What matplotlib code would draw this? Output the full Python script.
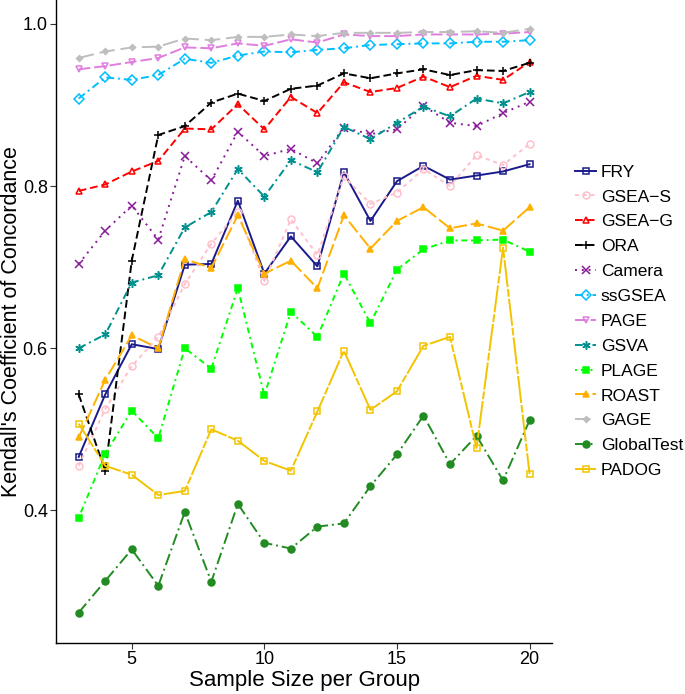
import matplotlib
matplotlib.use('Agg')
from matplotlib import pyplot as plt
import numpy as np

plt.rcParams['font.family'] = ['Liberation Sans', 'DejaVu Sans']

sample_size = list(range(3, 21))

fry = [0.466, 0.543, 0.605, 0.599, 0.703, 0.704, 0.782, 0.692, 0.738, 0.701,
       0.817, 0.757, 0.806, 0.825, 0.808, 0.813, 0.818, 0.827]
gsea_s = [0.455, 0.525, 0.578, 0.614, 0.679, 0.729, 0.768, 0.683, 0.759, 0.715,
          0.812, 0.778, 0.792, 0.821, 0.800, 0.838, 0.826, 0.852]
gsea_g = [0.794, 0.802, 0.818, 0.831, 0.871, 0.870, 0.901, 0.870, 0.910, 0.890,
          0.928, 0.916, 0.921, 0.935, 0.922, 0.936, 0.931, 0.953]
ora = [0.543, 0.449, 0.708, 0.863, 0.874, 0.903, 0.914, 0.905, 0.920, 0.924,
       0.939, 0.933, 0.939, 0.944, 0.937, 0.943, 0.942, 0.952]
camera = [0.704, 0.745, 0.776, 0.734, 0.837, 0.807, 0.867, 0.837, 0.846, 0.828,
          0.872, 0.864, 0.870, 0.899, 0.878, 0.874, 0.890, 0.904]
ssgsea = [0.908, 0.934, 0.931, 0.937, 0.957, 0.952, 0.961, 0.966, 0.965, 0.968,
          0.970, 0.974, 0.975, 0.976, 0.976, 0.978, 0.978, 0.980]
page = [0.944, 0.948, 0.953, 0.958, 0.971, 0.970, 0.976, 0.973, 0.981, 0.977,
        0.987, 0.985, 0.985, 0.987, 0.987, 0.987, 0.988, 0.990]
gsva = [0.600, 0.617, 0.681, 0.690, 0.749, 0.768, 0.821, 0.787, 0.832, 0.817,
        0.873, 0.858, 0.878, 0.898, 0.886, 0.908, 0.902, 0.916]
plage = [0.391, 0.470, 0.523, 0.489, 0.600, 0.575, 0.674, 0.542, 0.645, 0.614,
         0.692, 0.631, 0.697, 0.722, 0.733, 0.733, 0.734, 0.719]
roast = [0.490, 0.561, 0.616, 0.600, 0.710, 0.699, 0.764, 0.692, 0.708, 0.674,
         0.764, 0.723, 0.757, 0.774, 0.748, 0.754, 0.745, 0.774]
gage = [0.958, 0.966, 0.971, 0.972, 0.982, 0.980, 0.984, 0.984, 0.987, 0.985,
        0.989, 0.989, 0.989, 0.990, 0.990, 0.991, 0.989, 0.994]
globaltest = [0.274, 0.313, 0.352, 0.307, 0.398, 0.312, 0.408, 0.360, 0.353, 0.380,
              0.384, 0.430, 0.469, 0.517, 0.457, 0.492, 0.437, 0.511]
padog = [0.507, 0.455, 0.444, 0.419, 0.424, 0.500, 0.486, 0.461, 0.449, 0.522,
         0.597, 0.524, 0.547, 0.603, 0.614, 0.477, 0.724, 0.445]

# name, values, colour, linestyle, marker, filled
series = [
    ('FRY', fry, '#1a1a8c', '-', 's', False),
    ('GSEA\u2212S', gsea_s, '#ffc0cb', (0, (2, 2)), 'o', False),
    ('GSEA\u2212G', gsea_g, '#ff0000', (0, (4, 2)), '^', False),
    ('ORA', ora, '#000000', (0, (4, 2)), '+', True),
    ('Camera', camera, '#8b1a9b', (0, (1, 2.5)), 'x', True),
    ('ssGSEA', ssgsea, '#00bfff', (0, (4, 2, 1, 2)), 'D', False),
    ('PAGE', page, '#e07ee0', (0, (6, 2)), 'v', False),
    ('GSVA', gsva, '#009090', (0, (4, 2, 1, 2)), (6, 2, 0), True),
    ('PLAGE', plage, '#00ff00', (0, (1, 2, 3, 2)), 's', True),
    ('ROAST', roast, '#ffb000', (0, (7, 2)), '^', True),
    ('GAGE', gage, '#bebebe', (0, (8, 3)), 'D', True),
    ('GlobalTest', globaltest, '#228b22', (0, (6, 2, 1, 2)), 'o', True),
    ('PADOG', padog, '#f2c400', (0, (14, 1, 4, 1)), 's', False),
]

fig = plt.figure(figsize=(6.85, 6.94), dpi=100)
ax = fig.add_axes([0.082, 0.0735, 0.724, 0.9265])

handles = []
for name, vals, col, ls, mk, filled in series:
    ms = 5
    if name == 'GAGE':
        ms = 3
    if name in ('ORA', 'Camera', 'GSVA'):
        ms = 6
    h, = ax.plot(sample_size, vals, color=col, linestyle=ls, linewidth=1.4,
                 marker=mk, markersize=ms, markeredgewidth=1.1,
                 markerfacecolor=col if filled else 'none',
                 markeredgecolor=col, label=name)
    handles.append(h)

ax.set_xlim(2.15, 20.85)
ax.set_ylim(0.2365, 1.0295)
ax.set_xticks([5, 10, 15, 20])
ax.set_yticks([0.4, 0.6, 0.8, 1.0])
ax.set_yticklabels(['0.4', '0.6', '0.8', '1.0'])
ax.tick_params(labelsize=13, length=4, width=0.8, pad=2, colors='#333333', labelcolor='black')
for s in ['top', 'right']:
    ax.spines[s].set_visible(False)
for s in ['left', 'bottom']:
    ax.spines[s].set_linewidth(1.0)

ax.set_xlabel('Sample Size per Group', fontsize=16, labelpad=1)
ax.set_ylabel("Kendall's Coefficient of Concordance", fontsize=15.5)
ax.yaxis.set_label_coords(-0.068, 0.5)

fig.legend(handles=handles, loc='center left', bbox_to_anchor=(0.83, 0.537),
           frameon=False, fontsize=12.5, handlelength=1.2, handletextpad=0.25,
           labelspacing=0.56, borderaxespad=0)

fig.savefig('out.png', dpi=100)
